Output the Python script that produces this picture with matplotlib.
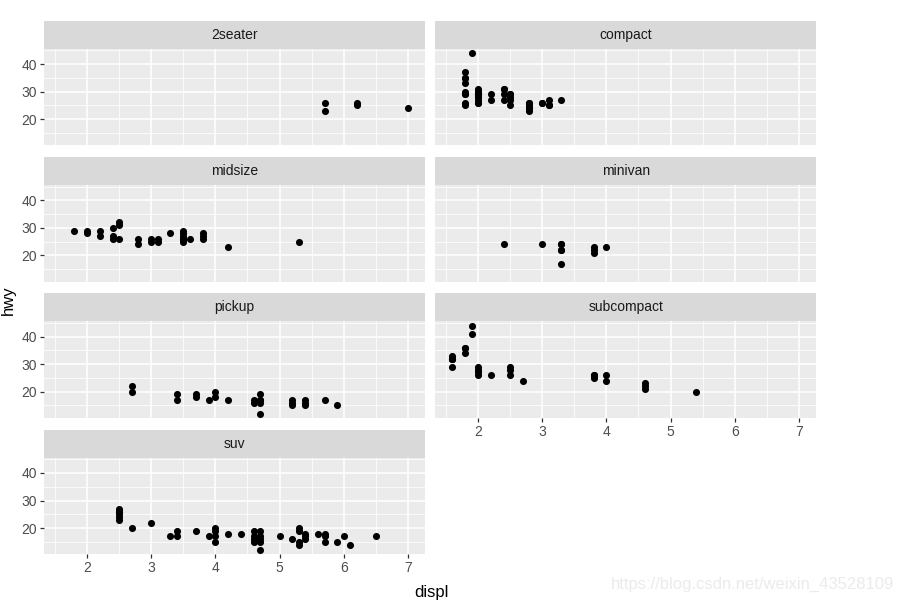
import numpy as np
import matplotlib.pyplot as plt

plt.rcParams['font.family'] = ['Liberation Sans', 'DejaVu Sans']

# ---------------------------------------------------------------------------
# data: displ / hwy per class
# ---------------------------------------------------------------------------
classes = ['2seater', 'compact', 'midsize', 'minivan', 'pickup', 'subcompact', 'suv']

displ_2seater = [5.7, 5.7, 6.2, 6.2, 7.0]
hwy_2seater = [26, 23, 26, 25, 24]

displ_compact = [1.8, 1.8, 2.0, 2.0, 2.8, 2.8, 3.1,
                 1.8, 1.8, 2.0, 2.0, 2.8, 2.8, 3.1, 3.1,
                 2.2, 2.2, 2.4, 2.4, 3.0, 3.0, 3.3,
                 1.8, 1.8, 1.8, 1.8, 1.8,
                 2.0, 2.0, 2.0, 2.0, 2.8,
                 1.9, 2.0, 2.0, 2.0, 2.0, 2.5, 2.5, 2.8, 2.8,
                 2.5, 2.5, 2.5, 2.4, 2.4, 2.0]
hwy_compact = [29, 29, 31, 30, 26, 26, 27,
               26, 25, 28, 27, 25, 25, 25, 25,
               27, 29, 31, 31, 26, 26, 27,
               30, 33, 35, 37, 35,
               29, 26, 29, 29, 24,
               44, 29, 26, 29, 29, 29, 29, 23, 24,
               25, 27, 28, 29, 27, 30]

displ_midsize = [1.8, 2.0, 2.0, 2.2, 2.2, 2.4, 2.4, 2.4, 2.5, 2.5, 2.5,
                 2.8, 2.8, 3.0, 3.0, 3.1, 3.1, 3.3,
                 3.5, 3.5, 3.5, 3.5, 3.5, 3.5, 3.6,
                 3.8, 3.8, 3.8, 4.2, 5.3]
hwy_midsize = [29, 29, 28, 29, 27, 30, 27, 26, 32, 31, 26,
               26, 24, 26, 25, 26, 25, 28,
               29, 28, 27, 26, 25, 26, 26,
               28, 27, 26, 23, 25]

displ_minivan = [2.4, 3.0, 3.3, 3.3, 3.3, 3.3, 3.3, 3.8, 3.8, 3.8, 4.0]
hwy_minivan = [24, 24, 24, 22, 22, 24, 17, 22, 21, 23, 23]

displ_pickup = [2.7, 2.7, 3.4, 3.4, 3.7, 3.7, 3.9, 4.0, 4.0, 4.2,
                4.6, 4.6, 4.7, 4.7, 4.7, 4.7, 4.7,
                5.2, 5.2, 5.2, 5.4, 5.4, 5.4, 5.7, 5.9]
hwy_pickup = [22, 20, 19, 17, 19, 18, 17, 20, 18, 17,
              17, 16, 19, 17, 16, 17, 12,
              17, 16, 15, 17, 15, 16, 17, 15]

displ_subcompact = [1.6, 1.6, 1.6, 1.6, 1.6, 1.8, 1.8, 1.8, 1.9, 1.9,
                    2.0, 2.0, 2.0, 2.0, 2.2, 2.5, 2.5, 2.5, 2.7,
                    3.8, 3.8, 3.8, 4.0, 4.0, 4.6, 4.6, 4.6, 5.4]
hwy_subcompact = [33, 32, 32, 29, 32, 36, 36, 34, 44, 41,
                  29, 28, 27, 26, 26, 29, 28, 26, 24,
                  26, 25, 26, 26, 24, 23, 22, 21, 20]

displ_suv = [2.5, 2.5, 2.5, 2.5, 2.5, 2.5, 2.7, 3.0, 3.3, 3.4, 3.4, 3.7,
             3.9, 4.0, 4.0, 4.0, 4.0, 4.2, 4.4,
             4.6, 4.6, 4.6, 4.6, 4.7, 4.7, 4.7, 4.7, 4.7,
             5.0, 5.2, 5.3, 5.3, 5.3, 5.3, 5.4, 5.4, 5.4,
             5.6, 5.7, 5.7, 5.7, 5.9, 6.0, 6.1, 6.5]
hwy_suv = [27, 26, 25, 24, 23, 26, 20, 22, 17, 19, 17, 19,
           17, 20, 19, 17, 15, 18, 18,
           19, 17, 16, 15, 19, 17, 16, 15, 12,
           17, 16, 20, 19, 15, 14, 18, 17, 16,
           18, 18, 17, 15, 15, 17, 14, 17]

displ_all = [displ_2seater, displ_compact, displ_midsize, displ_minivan,
             displ_pickup, displ_subcompact, displ_suv]
hwy_all = [hwy_2seater, hwy_compact, hwy_midsize, hwy_minivan,
           hwy_pickup, hwy_subcompact, hwy_suv]

# ---------------------------------------------------------------------------
# layout (pixel based, ggplot facet_wrap look)
# ---------------------------------------------------------------------------
W, H = 898, 603
fig = plt.figure(figsize=(W / 100, H / 100), dpi=100)

col_x = [(44, 425.3), (435, 816.3)]
row_top = [48.6, 184.9, 321.2, 457.6]
ph = 96.8
sh = 28

xmin = min(min(d) for d in displ_all)
xmax = max(max(d) for d in displ_all)
ymin = min(min(h) for h in hwy_all)
ymax = max(max(h) for h in hwy_all)
xpad = (xmax - xmin) * 0.05
ypad = (ymax - ymin) * 0.05


def px_axes(x0, y0, x1, y1):
    return fig.add_axes([x0 / W, 1 - y1 / H, (x1 - x0) / W, (y1 - y0) / H])


for k, cls in enumerate(classes):
    r, c = k // 2, k % 2
    x0, x1 = col_x[c]
    top = row_top[r]

    ax = px_axes(x0, top, x1, top + ph)
    ax.set_facecolor('#EBEBEB')
    ax.set_xlim(xmin - xpad, xmax + xpad)
    ax.set_ylim(ymin - ypad, ymax + ypad)
    ax.set_xticks([2, 3, 4, 5, 6, 7])
    ax.set_xticks(np.arange(1.5, 7.5, 1.0), minor=True)
    ax.set_yticks([20, 30, 40])
    ax.set_yticks([15, 25, 35, 45], minor=True)
    ax.grid(which='major', color='white', lw=1.1)
    ax.grid(which='minor', color='white', lw=0.55)
    ax.set_axisbelow(True)
    for s in ax.spines.values():
        s.set_visible(False)
    ax.tick_params(which='minor', length=0)
    ax.tick_params(which='major', length=3, width=0.9, color='#333333',
                   labelcolor='#4D4D4D', labelsize=10, pad=2)

    show_y = (c == 0)
    show_x = (r == 3) or (r == 2 and c == 1)
    ax.tick_params(axis='y', left=show_y, labelleft=show_y)
    ax.tick_params(axis='x', bottom=show_x, labelbottom=show_x)

    ax.scatter(displ_all[k], hwy_all[k], s=26, color='black', lw=0, zorder=3)

    # strip
    sax = px_axes(x0, top - sh, x1, top)
    sax.set_facecolor('#D9D9D9')
    sax.set_xticks([])
    sax.set_yticks([])
    for s in sax.spines.values():
        s.set_visible(False)
    sax.text(0.5, 0.5, cls, ha='center', va='center', fontsize=10,
             color='#1A1A1A', transform=sax.transAxes)

fig.text(8 / W, 1 - 300 / H, 'hwy', rotation=90, ha='center', va='center',
         fontsize=12, color='black')
fig.text(431 / W, 1 - 592 / H, 'displ', ha='center', va='center',
         fontsize=12, color='black')
fig.text(753 / W, 1 - 584 / H, 'https://blog.csdn.net/weixin_43528109',
         ha='center', va='center', fontsize=12, color='#EBEBEB')

plt.savefig('out.png', dpi=100)
